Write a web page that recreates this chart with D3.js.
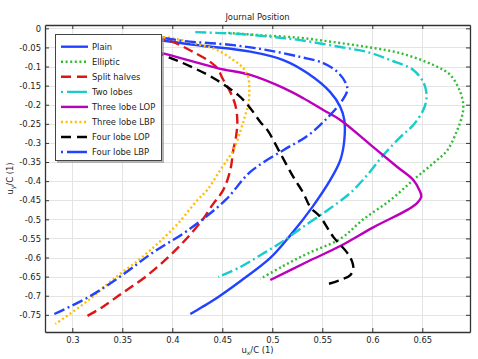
<!DOCTYPE html>
<html><head><meta charset="utf-8">
<script src="https://cdn.jsdelivr.net/npm/d3@7"></script>
<style>html,body{margin:0;padding:0;background:#fff;}svg{display:block;font-family:"DejaVu Sans",sans-serif;}</style>
</head><body>
<script>
// ---- data ----
const xTickValues = [0.3,0.35,0.4,0.45,0.5,0.55,0.6,0.65];
const xTickLabels = ["0.3","0.35","0.4","0.45","0.5","0.55","0.6","0.65"];
const yTickValues = [0,-0.05,-0.1,-0.15,-0.2,-0.25,-0.3,-0.35,-0.4,-0.45,-0.5,-0.55,-0.6,-0.65,-0.7,-0.75];
const yTickLabels = ["0","-0.05","-0.1","-0.15","-0.2","-0.25","-0.3","-0.35","-0.4","-0.45","-0.5","-0.55","-0.6","-0.65","-0.7","-0.75"];
const seriesNames = ["Plain","Elliptic","Split halves","Two lobes","Three lobe LOP","Three lobe LBP","Four lobe LOP","Four lobe LBP"];

const plainX = [0.348,0.378,0.428,0.478,0.511,0.535,0.558,0.568,0.572,0.572,0.568,0.558,0.540,0.518,0.498,0.468,0.441,0.429,0.418];
const plainY = [-0.020,-0.028,-0.045,-0.061,-0.083,-0.117,-0.167,-0.206,-0.240,-0.293,-0.345,-0.397,-0.468,-0.542,-0.601,-0.662,-0.712,-0.731,-0.748];

const ellipticX = [0.456,0.488,0.528,0.561,0.595,0.628,0.661,0.678,0.688,0.691,0.690,0.685,0.675,0.661,0.641,0.618,0.591,0.568,0.535,0.511,0.488];
const ellipticY = [-0.012,-0.018,-0.025,-0.036,-0.049,-0.065,-0.096,-0.122,-0.167,-0.201,-0.227,-0.266,-0.319,-0.353,-0.397,-0.450,-0.500,-0.551,-0.590,-0.622,-0.656];

const splitX = [0.368,0.395,0.421,0.438,0.445,0.450,0.458,0.463,0.465,0.464,0.461,0.458,0.451,0.440,0.430,0.413,0.396,0.373,0.350,0.330,0.315];
const splitY = [-0.023,-0.031,-0.062,-0.088,-0.104,-0.130,-0.167,-0.201,-0.240,-0.279,-0.319,-0.371,-0.423,-0.463,-0.502,-0.554,-0.599,-0.651,-0.693,-0.730,-0.753];

const twoLobesX = [0.423,0.468,0.501,0.528,0.568,0.595,0.618,0.641,0.651,0.654,0.654,0.651,0.641,0.628,0.611,0.595,0.578,0.558,0.535,0.508,0.488,0.468,0.446];
const twoLobesY = [-0.010,-0.015,-0.023,-0.031,-0.049,-0.062,-0.083,-0.109,-0.141,-0.167,-0.188,-0.214,-0.253,-0.285,-0.332,-0.384,-0.431,-0.471,-0.512,-0.562,-0.594,-0.625,-0.651];

const threeLopX = [0.358,0.390,0.445,0.478,0.511,0.531,0.551,0.568,0.601,0.625,0.641,0.647,0.649,0.645,0.636,0.601,0.568,0.535,0.498];
const threeLopY = [-0.044,-0.065,-0.104,-0.122,-0.156,-0.183,-0.214,-0.240,-0.311,-0.363,-0.397,-0.423,-0.440,-0.457,-0.474,-0.521,-0.570,-0.611,-0.659];

const threeLbpX = [0.368,0.398,0.425,0.445,0.461,0.471,0.476,0.477,0.476,0.473,0.470,0.461,0.448,0.435,0.425,0.406,0.386,0.366,0.340,0.316,0.293,0.283];
const threeLbpY = [-0.018,-0.025,-0.041,-0.057,-0.083,-0.104,-0.130,-0.167,-0.201,-0.227,-0.253,-0.319,-0.371,-0.423,-0.450,-0.510,-0.562,-0.607,-0.659,-0.712,-0.756,-0.774];

const fourLopX = [0.353,0.391,0.415,0.441,0.466,0.478,0.488,0.495,0.508,0.521,0.531,0.538,0.548,0.561,0.575,0.580,0.581,0.578,0.568,0.555];
const fourLopY = [-0.031,-0.070,-0.096,-0.130,-0.175,-0.209,-0.245,-0.266,-0.327,-0.389,-0.431,-0.468,-0.494,-0.546,-0.588,-0.612,-0.628,-0.646,-0.659,-0.670];

const fourLbpX = [0.353,0.390,0.411,0.461,0.495,0.528,0.551,0.565,0.573,0.575,0.568,0.553,0.535,0.511,0.478,0.453,0.416,0.380,0.350,0.316,0.282];
const fourLbpY = [-0.018,-0.025,-0.033,-0.044,-0.057,-0.075,-0.091,-0.114,-0.141,-0.162,-0.196,-0.240,-0.282,-0.319,-0.376,-0.450,-0.528,-0.588,-0.646,-0.704,-0.748];

// ---- build ----
const seriesX = [plainX, ellipticX, splitX, twoLobesX, threeLopX, threeLbpX, fourLopX, fourLbpX];
const seriesY = [plainY, ellipticY, splitY, twoLobesY, threeLopY, threeLbpY, fourLopY, fourLbpY];
const colors = ["#2142ff","#33bb33","#dd1515","#18cccc","#bb00bb","#ffbf00","#000000","#2142ff"];
const dashes = [null,"2,2.6","10,5","11,3.5,2,3.5",null,"2,2.6","10,5.5","11,3.5,2,3.5"];
const legendDashes = [null,"2,2.6","10,6","2,4,20,4",null,"2,2.6","10,6","2,4,20,4"];

const W = 478, H = 359;
const PL = 45, PR = 470, PT = 25, PB = 332;
const xs = d3.scaleLinear().domain([0.2727, 0.6977]).range([PL, PR]);
const ys = d3.scaleLinear().domain([0.0087, -0.795]).range([PT, PB]);

const svg = d3.select("body").append("svg").attr("width", W).attr("height", H);

svg.append("defs").append("clipPath").attr("id","clip")
  .append("rect").attr("x",PL).attr("y",PT).attr("width",PR-PL).attr("height",PB-PT);

// grid
const grid = svg.append("g").attr("stroke","#e4e4e4").attr("stroke-width",1);
xTickValues.forEach(v => grid.append("line").attr("x1",Math.round(xs(v))+0.5).attr("x2",Math.round(xs(v))+0.5).attr("y1",PT).attr("y2",PB));
yTickValues.forEach(v => grid.append("line").attr("y1",Math.round(ys(v))+0.5).attr("y2",Math.round(ys(v))+0.5).attr("x1",PL).attr("x2",PR));

// curves
const lineGen = d3.line().x(d => xs(d[0])).y(d => ys(d[1])).curve(d3.curveCatmullRom.alpha(0.5));
const cg = svg.append("g").attr("clip-path","url(#clip)");
seriesNames.forEach((n,i) => {
  const pts = seriesX[i].map((v,j) => [v, seriesY[i][j]]);
  cg.append("path").attr("d", lineGen(pts)).attr("fill","none")
    .attr("stroke", colors[i]).attr("stroke-width", 2.4)
    .attr("stroke-dasharray", dashes[i]);
});

// axes (frame with inward ticks)
const axLeft = d3.axisLeft(ys).tickValues(yTickValues).tickFormat((d,i)=>yTickLabels[i]).tickSizeInner(-4).tickSizeOuter(0).tickPadding(4);
const axBottom = d3.axisBottom(xs).tickValues(xTickValues).tickFormat((d,i)=>xTickLabels[i]).tickSizeInner(-4).tickSizeOuter(0).tickPadding(5);
const axRight = d3.axisRight(ys).tickValues(yTickValues).tickFormat("").tickSizeInner(-4).tickSizeOuter(0);
const axTop = d3.axisTop(xs).tickValues(xTickValues).tickFormat("").tickSizeInner(-4).tickSizeOuter(0);
[["translate(" + PL + ",0)", axLeft],["translate(0," + PB + ")", axBottom],["translate(" + PR + ",0)", axRight],["translate(0," + PT + ")", axTop]].forEach(([tr, ax]) => {
  const g = svg.append("g").attr("transform", tr).call(ax);
  g.selectAll("text").attr("font-family","DejaVu Sans").attr("font-size","8.4px").attr("fill","#222");
  g.selectAll("line").attr("stroke","#333");
  g.select(".domain").attr("stroke","#333").attr("stroke-width",1.3);
});

// title and labels
svg.append("text").attr("x", (PL+PR)/2).attr("y", 20).attr("text-anchor","middle")
  .attr("font-size","8.4px").attr("fill","#222").text("Journal Position");
const xl = svg.append("text").attr("x",(PL+PR)/2).attr("y",353).attr("text-anchor","middle").attr("font-size","8.4px").attr("fill","#222");
xl.append("tspan").text("u");
xl.append("tspan").attr("dy",2).attr("font-size","6px").text("x");
xl.append("tspan").attr("dy",-2).text("/C (1)");
const yl = svg.append("text").attr("transform","translate(13," + ((PT+PB)/2) + ") rotate(-90)").attr("text-anchor","middle").attr("font-size","8.4px").attr("fill","#222");
yl.append("tspan").text("u");
yl.append("tspan").attr("dy",2).attr("font-size","6px").text("y");
yl.append("tspan").attr("dy",-2).text("/C (1)");

// legend
const lg = svg.append("g");
lg.append("rect").attr("x",57).attr("y",36).attr("width",107).attr("height",127).attr("fill","#999").attr("opacity",0.7);
lg.append("rect").attr("x",55.5).attr("y",34.5).attr("width",106).attr("height",126).attr("fill","#fff").attr("stroke","#444").attr("stroke-width",1);
seriesNames.forEach((n,i) => {
  const yy = 46.7 + i*15.05;
  lg.append("line").attr("x1",61).attr("x2",88).attr("y1",yy).attr("y2",yy)
    .attr("stroke",colors[i]).attr("stroke-width",2.4).attr("stroke-dasharray",legendDashes[i]);
  lg.append("text").attr("x",92).attr("y",yy+3).attr("font-size","8.4px").attr("fill","#222").text(n);
});
</script>
</body></html>
